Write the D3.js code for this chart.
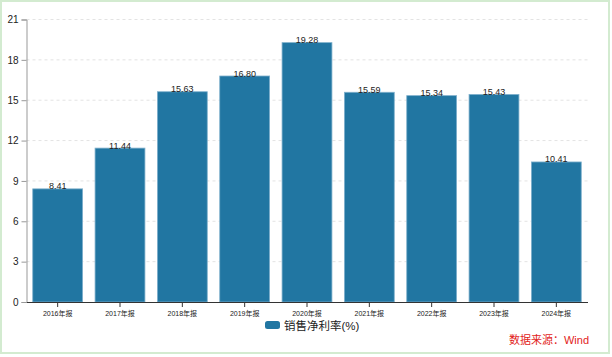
<!DOCTYPE html>
<html><head><meta charset="utf-8">
<script src="https://cdn.jsdelivr.net/npm/d3@7"></script>
<style>
html,body{margin:0;padding:0;background:#fff;}
svg{display:block;font-family:"Liberation Sans",Arial,"Noto Sans CJK SC",sans-serif;}
</style></head>
<body><svg id="c" width="612" height="357"></svg>
<script>
const categories = ["2016年报","2017年报","2018年报","2019年报","2020年报","2021年报","2022年报","2023年报","2024年报"];
const values = [8.41,11.44,15.63,16.80,19.28,15.59,15.34,15.43,10.41];
const labels = ["8.41","11.44","15.63","16.80","19.28","15.59","15.34","15.43","10.41"];
const yTicks = [0,3,6,9,12,15,18,21];
const seriesName = "销售净利率(%)";
const source = "数据来源：Wind";

(function(){
const svg = d3.select("#c");
// frame
svg.append("rect").attr("x",1).attr("y",1).attr("width",608).attr("height",352)
  .attr("fill","#fff").attr("stroke","#d3ebd0").attr("stroke-width",2);

const mL=26.5, mR=587.5, mT=19.5, mB=302;
const x = d3.scaleBand().domain(categories).range([mL,mR]).paddingInner(0.2).paddingOuter(0.1);
const y = d3.scaleLinear().domain([0,21]).range([mB,mT]);

// grid
svg.append("g").selectAll("line").data(yTicks.filter(d=>d>0)).join("line")
  .attr("x1",mL).attr("x2",mR).attr("y1",d=>y(d)).attr("y2",d=>y(d))
  .attr("stroke","#e3e3e3").attr("stroke-dasharray","3,3");

// bars
svg.append("g").selectAll("rect").data(values).join("rect")
  .attr("x",(d,i)=>x(categories[i])).attr("width",x.bandwidth())
  .attr("y",d=>y(d)).attr("height",d=>mB-y(d))
  .attr("fill","#2176a2").attr("stroke","#7fb0cc").attr("stroke-width",0.8);

// value labels
svg.append("g").selectAll("text").data(values).join("text")
  .attr("x",(d,i)=>x(categories[i])+x.bandwidth()/2).attr("y",d=>y(d)+0.5)
  .attr("text-anchor","middle").attr("font-size",9).attr("fill","#222")
  .text((d,i)=>labels[i]);

// y axis
const ya = svg.append("g").attr("transform",`translate(${mL},0)`)
  .call(d3.axisLeft(y).tickValues(yTicks).tickSize(5).tickFormat(d3.format("d")));
ya.select(".domain").attr("stroke","#999");
ya.selectAll(".tick line").attr("stroke","#999");
ya.selectAll("text").attr("font-size",10).attr("fill","#222").attr("font-family","Liberation Sans, Arial, sans-serif");

// x axis
const xa = svg.append("g").attr("transform",`translate(0,${mB})`)
  .call(d3.axisBottom(x).tickSize(5).tickSizeOuter(0));
xa.select(".domain").attr("stroke","#333");
xa.selectAll(".tick line").attr("stroke","#333");
xa.selectAll("text").attr("font-size",7).attr("fill","#222").attr("dy","0.8em")
  .attr("font-family","Liberation Sans, Arial, Noto Sans CJK SC, sans-serif");

// legend
const lg = svg.append("g").attr("transform","translate(265,321)");
lg.append("rect").attr("width",15).attr("height",8).attr("rx",2.5).attr("fill","#2176a2");
lg.append("text").attr("x",19).attr("y",8.5).attr("font-size",11.5).attr("fill","#222").text(seriesName);

// source
svg.append("text").attr("x",589).attr("y",344).attr("text-anchor","end")
  .attr("font-size",11).attr("fill","#e2231a").text(source);
})();
</script></body></html>
